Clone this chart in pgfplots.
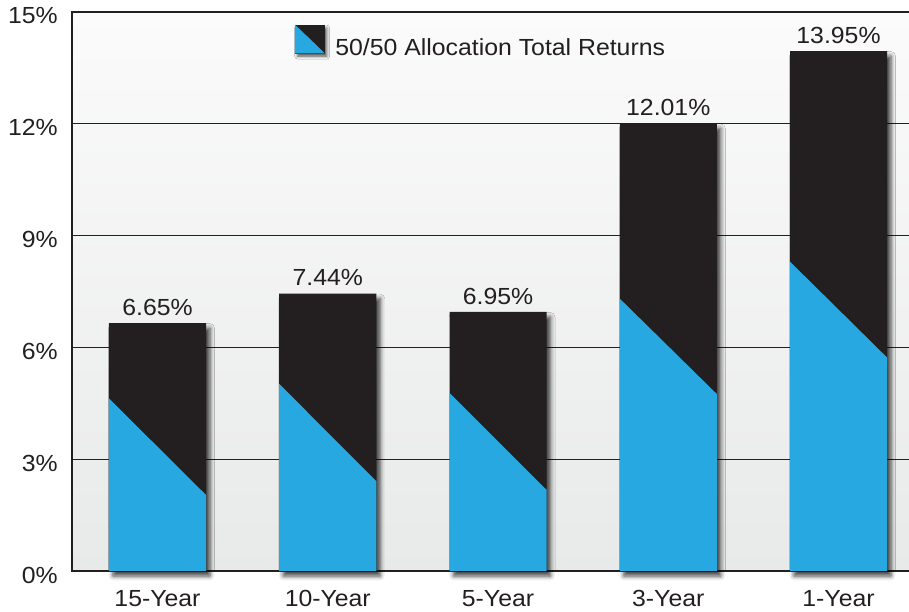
\documentclass[border=0pt]{standalone}
\usepackage{pgfplots}
\pgfplotsset{compat=1.18}
\usepackage{fontspec}
\setmainfont{Liberation Sans}[FakeStretch=1.065]
\usetikzlibrary{shadows.blur}
\definecolor{barblack}{RGB}{35,31,32}
\definecolor{barblue}{RGB}{39,168,224}
\definecolor{txt}{RGB}{35,31,32}
\definecolor{bgtop}{RGB}{251,251,251}
\definecolor{bgbot}{RGB}{232,233,233}
\newcommand{\lbl}{\fontsize{23.3}{27}\selectfont}
\begin{document}
\begin{tikzpicture}
\begin{axis}[
  scale only axis, width=843pt, height=559pt,
  xmin=-0.5022, xmax=4.4493, ymin=0, ymax=15,
  xtick={0,1,2,3,4}, xticklabels={15-Year,10-Year,5-Year,3-Year,1-Year},
  ytick={0,3,6,9,12,15},
  yticklabel={\pgfmathprintnumber{\tick}\%},
  /pgf/number format/assume math mode=true,
  major tick length=0pt,
  ymajorgrids, grid style={line width=1pt, color=txt},
  axis line style={line width=2pt, color=txt},
  clip=false,
  tick label style={text=txt, inner sep=0pt, font=\lbl},
  yticklabel style={anchor=east, xshift=-14pt, yshift=-4pt},
  xticklabel style={anchor=north, yshift=-19pt},
  axis background/.style={top color=bgtop, bottom color=bgbot},
  legend style={draw=none, fill=none, inner sep=0pt, outer sep=0pt,
    at={(rel axis cs:0.2645,0.948)}, anchor=west,
    nodes={inner sep=0pt, text=txt, font=\lbl}, column sep=11pt},
]
\addlegendimage{legend image code/.code={
  \fill[barblack, blur shadow={shadow xshift=2.5pt, shadow yshift=-3pt, shadow blur radius=3pt, shadow opacity=70}] (0pt,-5pt) rectangle (29pt,23pt);
  \fill[barblue] (0pt,23pt) -- (29pt,-5pt) -- (0pt,-5pt) -- cycle;
}}
\addlegendentry{50/50 Allocation Total Returns}

\addplot[forget plot, ybar, bar shift=0pt, bar width=0.5698, fill=barblack, draw=none,
  blur shadow={shadow xshift=4pt, shadow yshift=-5pt, shadow blur radius=4.5pt, shadow opacity=75}]
  coordinates {(0,6.65) (1,7.44) (2,6.95) (3,12.01) (4,13.95)};

\addplot[forget plot, fill=barblue, draw=none] coordinates {(-0.2849,0) (-0.2849,4.63) (0.2849,2.04) (0.2849,0)} -- cycle;
\addplot[forget plot, fill=barblue, draw=none] coordinates {(0.7151,0) (0.7151,5.02) (1.2849,2.41) (1.2849,0)} -- cycle;
\addplot[forget plot, fill=barblue, draw=none] coordinates {(1.7151,0) (1.7151,4.78) (2.2849,2.18) (2.2849,0)} -- cycle;
\addplot[forget plot, fill=barblue, draw=none] coordinates {(2.7151,0) (2.7151,7.31) (3.2849,4.75) (3.2849,0)} -- cycle;
\addplot[forget plot, fill=barblue, draw=none] coordinates {(3.7151,0) (3.7151,8.30) (4.2849,5.73) (4.2849,0)} -- cycle;

\addplot[forget plot, draw=none, mark=none, point meta=y,
  nodes near coords={\pgfmathprintnumber[fixed,fixed zerofill,precision=2,assume math mode=true]{\pgfplotspointmeta}\%},
  every node near coord/.append style={anchor=south, yshift=7.5pt, inner sep=0pt, text=txt, font=\lbl}]
  coordinates {(0,6.65) (1,7.44) (2,6.95) (3,12.01) (4,13.95)};
\end{axis}
\pgfresetboundingbox
\path[use as bounding box] (-72pt,-40pt) rectangle (837pt,571pt);
\end{tikzpicture}
\end{document}
